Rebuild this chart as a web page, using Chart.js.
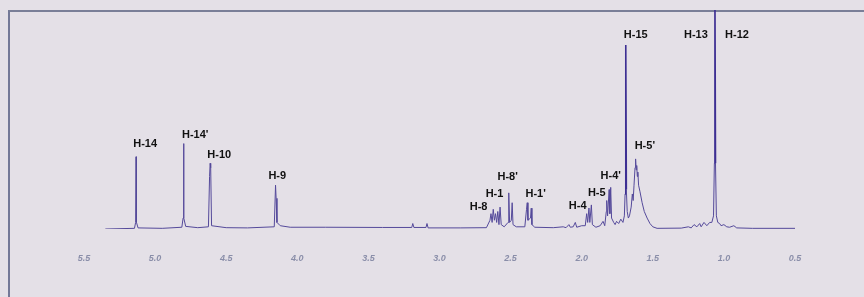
<!DOCTYPE html>
<html>
<head>
<meta charset="utf-8">
<script src="https://cdn.jsdelivr.net/npm/chart.js@4"></script>
<style>
  html, body { margin: 0; padding: 0; background: #e4e0e7; }
  #wrap { position: relative; width: 864px; height: 297px; overflow: hidden; }
  #frame { position: absolute; left: 8px; top: 10px; right: -10px; bottom: -10px;
           border-left: 2px solid #737897; border-top: 2px solid #7a7f98; }
  canvas { position: absolute; left: 0; top: 0; }
</style>
</head>
<body>
<div id="wrap">
  <div id="frame"></div>
  <canvas id="nmr" width="864" height="297"></canvas>
</div>
<script>
// chemical shift axis (ppm) tick labels
const tickValues = [5.5, 5.0, 4.5, 4.0, 3.5, 3.0, 2.5, 2.0, 1.5, 1.0, 0.5];

// spectrum trace: [ppm, intensity]
const spectrum = [
  [5.35, 0], [5.145, 0.3], [5.137, 3], [5.134, 33], [5.131, 3], [5.12, 0.5],
  [4.95, 0.3], [4.812, 0.8], [4.803, 5], [4.800, 39], [4.797, 5], [4.785, 1.2],
  [4.70, 0.6], [4.625, 1], [4.617, 24], [4.613, 30], [4.609, 28], [4.603, 1.5],
  [4.50, 0.6], [4.35, 0.5], [4.162, 1], [4.153, 20], [4.149, 14], [4.143, 3],
  [4.12, 1.5], [4.05, 0.8], [3.80, 0.8], [3.40, 0.7],
  [3.195, 0.7], [3.188, 2.5], [3.180, 0.7], [3.095, 0.7], [3.088, 2.5], [3.080, 0.5],
  [2.85, 0.5], [2.67, 0.6],
  [2.645, 4], [2.638, 7], [2.630, 3], [2.622, 9], [2.614, 4], [2.606, 7],
  [2.598, 3], [2.590, 8], [2.582, 2], [2.574, 10], [2.566, 2], [2.545, 1],
  [2.518, 3], [2.513, 16.5], [2.507, 3], [2.495, 4], [2.489, 12], [2.483, 2],
  [2.46, 1], [2.40, 1], [2.388, 9], [2.383, 12], [2.378, 4], [2.360, 5],
  [2.355, 9.5], [2.350, 2], [2.33, 0.8], [2.20, 0.6],
  [2.13, 1], [2.11, 0.6], [2.09, 2], [2.08, 0.8], [2.06, 1], [2.045, 3], [2.035, 0.8],
  [2.00, 1.5], [1.975, 1.5], [1.965, 7], [1.958, 3], [1.949, 9.6], [1.943, 3],
  [1.932, 11], [1.925, 2], [1.90, 0.8], [1.87, 1.5], [1.85, 3.5], [1.838, 1.5],
  [1.827, 8], [1.824, 13], [1.818, 6], [1.807, 18], [1.802, 7], [1.796, 19],
  [1.790, 5], [1.775, 3], [1.765, 2], [1.755, 3.5], [1.74, 2.5], [1.725, 4.5],
  [1.71, 3], [1.70, 6], [1.695, 16], [1.690, 84], [1.686, 18], [1.680, 8],
  [1.672, 5], [1.664, 6], [1.652, 10], [1.644, 16], [1.638, 13], [1.632, 20],
  [1.625, 28], [1.621, 32], [1.617, 27], [1.613, 29], [1.609, 24], [1.605, 26],
  [1.60, 20], [1.59, 17], [1.575, 12], [1.56, 8], [1.54, 5], [1.52, 2.5],
  [1.50, 1], [1.47, 0.3], [1.30, 0.4], [1.25, 1], [1.23, 0.5], [1.21, 2],
  [1.19, 1], [1.17, 2.5], [1.16, 1], [1.14, 3], [1.12, 1.5], [1.10, 3],
  [1.085, 3], [1.073, 6], [1.067, 30], [1.063, 108], [1.059, 30], [1.053, 6],
  [1.043, 3], [1.03, 2.5], [1.02, 1.5], [1.00, 2], [0.98, 1], [0.96, 0.8],
  [0.93, 1.5], [0.91, 0.5], [0.80, 0.3], [0.5, 0.3]
];

// peak assignments: text, ppm and height of label centre
const peakNames = ['H-14', "H-14'", 'H-10', 'H-9', "H-8'", 'H-1', "H-1'", 'H-8',
  'H-4', 'H-5', "H-4'", "H-5'", 'H-15', 'H-13', 'H-12'];
const peakPpm = [5.07, 4.718, 4.549, 4.141, 2.521, 2.613, 2.324, 2.725,
  2.028, 1.894, 1.796, 1.556, 1.620, 1.197, 0.908];
const peakLabelY = [38.8, 42.9, 33.8, 24.2, 23.7, 16.0, 16.0, 10.0,
  10.5, 16.4, 24.2, 37.9, 88.6, 88.6, 88.6];

const peakLabels = {
  id: 'peakLabels',
  afterDatasetsDraw(chart) {
    const ctx = chart.ctx;
    const xs = chart.scales.x, ys = chart.scales.y;
    ctx.save();
    ctx.font = 'bold 11px "Liberation Sans", Arial, sans-serif';
    ctx.fillStyle = '#111';
    ctx.textAlign = 'center';
    ctx.textBaseline = 'middle';
    peakNames.forEach((name, i) => {
      ctx.fillText(name, xs.getPixelForValue(peakPpm[i]), ys.getPixelForValue(peakLabelY[i]));
    });
    ctx.restore();
  }
};

// tall singlets are drawn heavier, as in the scan
const tall = ctx => Math.max(ctx.p0.parsed.y, ctx.p1.parsed.y) > 60;

new Chart(document.getElementById('nmr').getContext('2d'), {
  type: 'line',
  data: {
    datasets: [{
      data: spectrum.map(p => ({ x: p[0], y: p[1] })),
      borderColor: '#54499a',
      borderWidth: 1,
      pointRadius: 0,
      tension: 0,
      fill: false,
      segment: {
        borderColor: ctx => tall(ctx) ? '#3d2f93' : undefined,
        borderWidth: ctx => tall(ctx) ? 1.6 : undefined
      }
    }]
  },
  options: {
    responsive: false,
    animation: false,
    layout: { padding: { left: 84, right: 69, top: 10, bottom: 0 } },
    plugins: { legend: { display: false }, tooltip: { enabled: false } },
    scales: {
      x: {
        type: 'linear',
        reverse: true,
        min: 0.5,
        max: 5.5,
        grid: { display: false, drawTicks: false },
        border: { display: false },
        afterBuildTicks: s => { s.ticks = tickValues.map(v => ({ value: v })); },
        afterFit: s => { s.height = 68; },
        ticks: {
          padding: 24,
          color: '#8a8ea9',
          font: { family: '"Liberation Sans", Arial, sans-serif', size: 9, style: 'italic', weight: 'bold' },
          callback: v => v.toFixed(1),
          maxRotation: 0
        }
      },
      y: { display: false, min: 0, max: 100 }
    }
  },
  plugins: [peakLabels]
});
</script>
</body>
</html>
